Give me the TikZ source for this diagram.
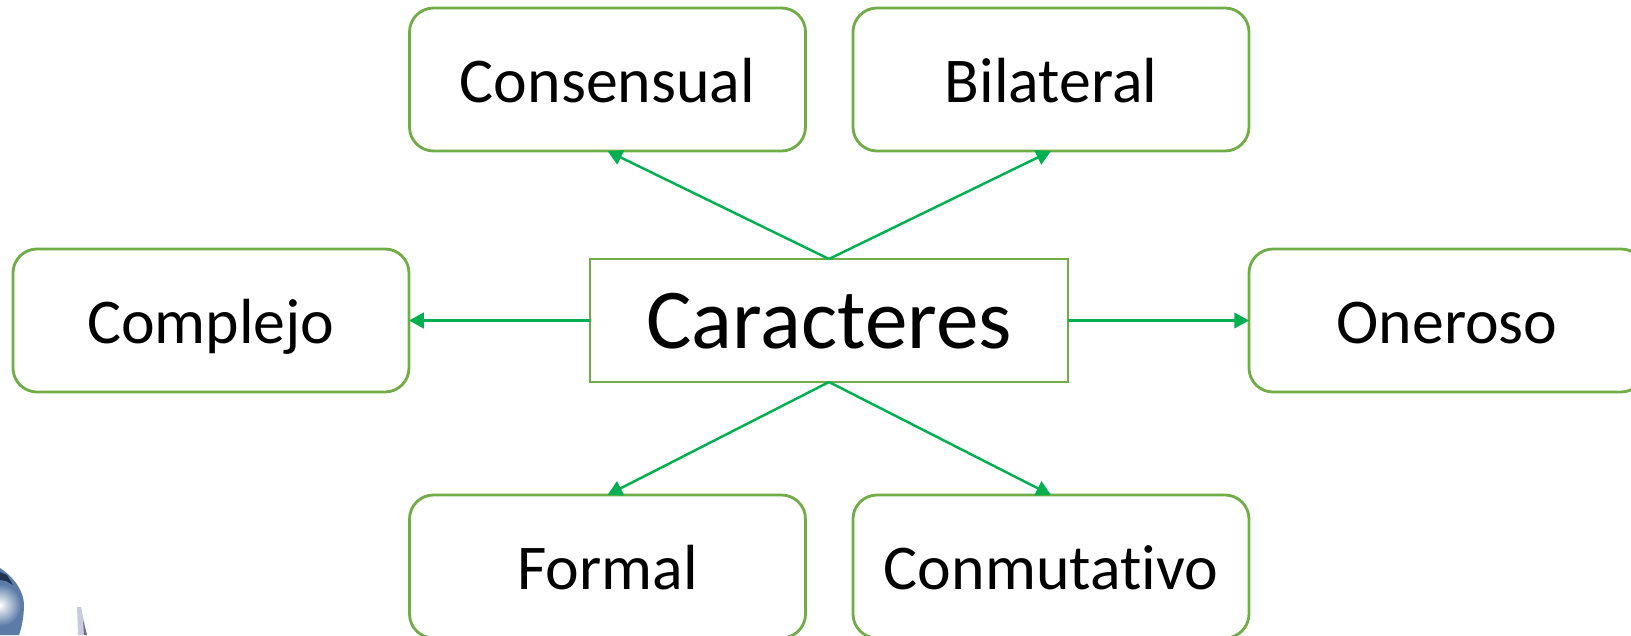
\documentclass[tikz,border=0pt]{standalone}
\usepackage{fontspec}
\setmainfont[Ligatures=NoCommon]{Carlito}
\usetikzlibrary{arrows.meta}
\definecolor{boxgreen}{HTML}{70AD47}
\definecolor{linkgreen}{HTML}{00B050}
\definecolor{ballblue}{HTML}{5C7CA8}
\definecolor{balldark}{HTML}{1F3350}
\definecolor{spikegray}{HTML}{C9CCDE}
\definecolor{spikedark}{HTML}{6A6E80}
\tikzset{
	item/.style={draw=boxgreen, line width=0.8pt, rounded corners=0.24cm, fill=white, minimum width=3.96cm, minimum height=1.43cm, inner sep=0pt, outer sep=0pt, text height=0.45cm, text depth=0cm, font=\fontsize{18.15}{22}\selectfont},
	link/.style={draw=linkgreen, line width=0.7pt, -{Triangle[length=4.2pt,width=4.4pt]}}
}

\begin{document}
\begin{tikzpicture}
	
	\path[use as bounding box, clip] (0,0) rectangle (16.31,-6.35);
	
	\node [draw=boxgreen, line width=0.8pt, minimum width=4.78cm, minimum height=1.23cm, inner sep=0pt, outer sep=0pt, text height=0.55cm, text depth=0cm, font=\fontsize{24.25}{29}\selectfont] (caracteres) at (8.29,-3.205){Caracteres};
	
	\node [item] (consensual) at (6.075,-0.795){Consensual};
	\node [item] (bilateral) at (10.51,-0.795){Bilateral};
	\node [item] (complejo) at (2.11,-3.205){Complejo};
	\node [item] (oneroso) at (14.47,-3.205){Oneroso};
	\node [item] (formal) at (6.075,-5.665){Formal};
	\node [item] (conmutativo) at (10.51,-5.665){Conmutativo};
	
	\draw[link] (caracteres.north) -- (consensual.south);
	\draw[link] (caracteres.north) -- (bilateral.south);
	\draw[link] (caracteres.west) -- (complejo.east);
	\draw[link] (caracteres.east) -- (oneroso.west);
	\draw[link] (caracteres.south) -- (formal.north);
	\draw[link] (caracteres.south) -- (conmutativo.north);
	
	% corner of the picture
	\fill[ballblue] (0,-5.68) .. controls (0.15,-5.78) and (0.24,-5.92) .. (0.24,-6.05) .. controls (0.24,-6.15) and (0.22,-6.27) .. (0.19,-6.35) -- (0,-6.35) -- cycle;
	\shade[inner color=white, outer color=ballblue] (0,-6.05) circle (0.21cm);
	\fill[balldark] (0,-5.72) -- (0.07,-5.75) -- (0.13,-5.85) -- (0.06,-5.81) -- (0,-5.8) -- cycle;
	\fill[spikegray] (0.77,-6.07) -- (0.81,-6.07) -- (0.87,-6.35) -- (0.78,-6.35) -- cycle;
	\fill[spikedark] (0.83,-6.2) -- (0.87,-6.35) -- (0.84,-6.35) -- cycle;
	
\end{tikzpicture}
\end{document}
